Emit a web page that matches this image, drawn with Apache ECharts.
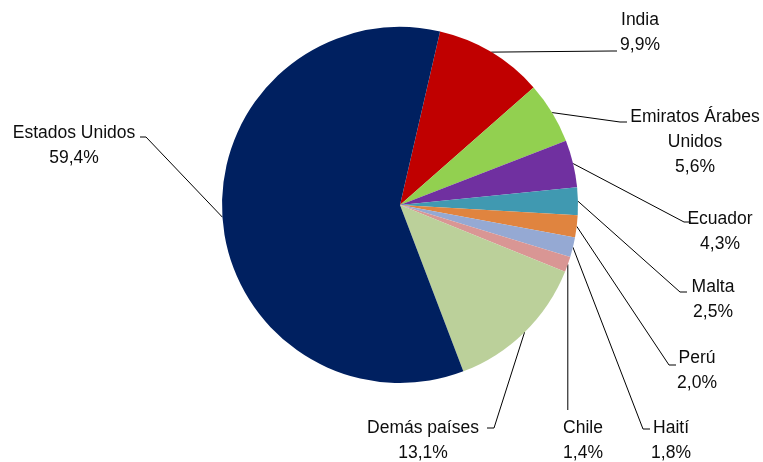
<!DOCTYPE html>
<html>
<head>
<meta charset="utf-8">
<script src="https://cdn.jsdelivr.net/npm/echarts@6/dist/echarts.min.js"></script>
<style>html,body{margin:0;padding:0;background:#fff}#c{width:763px;height:462px}</style>
</head>
<body>
<div id="c"></div>
<script>
// Data (percent shares), in clockwise order starting from India
const categories = ['India', 'Emiratos Árabes Unidos', 'Ecuador', 'Malta', 'Perú', 'Haití', 'Chile', 'Demás países', 'Estados Unidos'];
const values = [9.9, 5.6, 4.3, 2.5, 2.0, 1.8, 1.4, 13.1, 59.4];
const displayNames = ['India', 'Emiratos Árabes\nUnidos', 'Ecuador', 'Malta', 'Perú', 'Haití', 'Chile', 'Demás países', 'Estados Unidos'];

const colors = ['#C00000', '#92D050', '#7030A0', '#4099B1', '#E0843F', '#95A9D3', '#D99694', '#BBD09A', '#002060'];

// label placement (text block center-x, top-y) and leader line bend/end points
const labelPos = {
  'India': {x: 640, y: 8, pts: [[612, 51], [617, 51]]},
  'Emiratos Árabes Unidos': {x: 695, y: 105, pts: [[620, 122], [627, 122]]},
  'Ecuador': {x: 720, y: 207, pts: [[684, 222], [691, 222]]},
  'Malta': {x: 713, y: 275, pts: [[680, 292], [687, 292]]},
  'Perú': {x: 697, y: 346, pts: [[669, 365], [676, 365]]},
  'Haití': {x: 671, y: 416, pts: [[643, 429], [650, 429]]},
  'Chile': {x: 583, y: 416, pts: null},
  'Demás países': {x: 423, y: 416, pts: [[494, 428], [487, 428]]},
  'Estados Unidos': {x: 74, y: 121, pts: [[146, 137], [140, 137]]}
};

const fmt = v => v.toFixed(1).replace('.', ',') + '%';

const chart = echarts.init(document.getElementById('c'), null, {renderer: 'canvas'});
chart.setOption({
  animation: false,
  color: colors,
  series: [{
    type: 'pie',
    center: [400, 205],
    radius: 178,
    startAngle: 77,
    clockwise: true,
    avoidLabelOverlap: false,
    data: categories.map((n, i) => ({name: n, value: values[i]})),
    itemStyle: {borderWidth: 0},
    label: {
      show: true,
      position: 'outside',
      fontFamily: 'Liberation Sans',
      fontSize: 17.5,
      lineHeight: 25,
      color: '#0d0d0d',
      formatter: p => displayNames[p.dataIndex] + '\n' + fmt(values[p.dataIndex])
    },
    labelLine: {
      show: true,
      length: 10,
      length2: 10,
      lineStyle: {color: '#000', width: 1}
    },
    labelLayout: function (params) {
      const name = categories[params.dataIndex];
      const lp = labelPos[name];
      const res = {x: lp.x, y: lp.y, align: 'center', verticalAlign: 'top'};
      const a = params.labelLinePoints ? params.labelLinePoints[0] : null;
      if (a) {
        if (lp.pts) {
          res.labelLinePoints = [a, lp.pts[0], lp.pts[1]];
        } else {
          res.labelLinePoints = [a, [a[0], 410], [a[0], 410]];
        }
      }
      return res;
    }
  }]
});
</script>
</body>
</html>
